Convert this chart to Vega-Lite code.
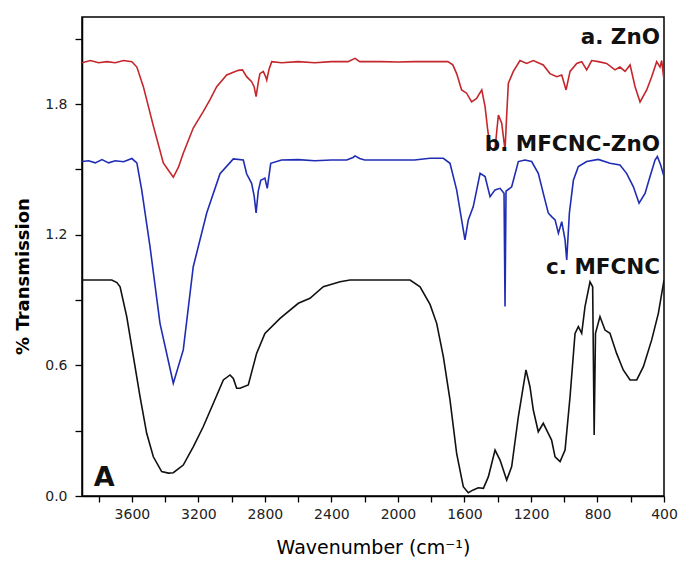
{
  "$schema": "https://vega.github.io/schema/vega-lite/v6.json",
  "width": 582,
  "height": 479,
  "autosize": {"type": "none"},
  "padding": {"left": 82, "top": 17, "right": 15, "bottom": 76},
  "background": "white",
  "config": {
    "view": {"stroke": "black", "strokeWidth": 1.5},
    "font": "DejaVu Sans",
    "axis": {"grid": false, "domainColor": "black", "tickColor": "black", "labelColor": "#222222", "titleColor": "black", "labelFont": "DejaVu Sans", "titleFont": "DejaVu Sans", "labelFontSize": 14, "titleFontSize": 18, "tickSize": 6, "domainWidth": 1.5, "tickWidth": 1.3}
  },
  "datasets": {
    "spectra": [
      {"s":"a","x":3900,"y":1.99},{"s":"a","x":3850,"y":2.0},{"s":"a","x":3800,"y":1.99},{"s":"a","x":3750,"y":1.995},{"s":"a","x":3700,"y":1.99},{"s":"a","x":3650,"y":2.0},{"s":"a","x":3600,"y":1.995},{"s":"a","x":3570,"y":1.97},{"s":"a","x":3531,"y":1.88},{"s":"a","x":3471,"y":1.70},{"s":"a","x":3411,"y":1.53},{"s":"a","x":3351,"y":1.464},{"s":"a","x":3320,"y":1.51},{"s":"a","x":3291,"y":1.574},{"s":"a","x":3231,"y":1.69},{"s":"a","x":3171,"y":1.765},{"s":"a","x":3130,"y":1.82},{"s":"a","x":3090,"y":1.88},{"s":"a","x":3030,"y":1.934},{"s":"a","x":2960,"y":1.955},{"s":"a","x":2935,"y":1.957},{"s":"a","x":2910,"y":1.926},{"s":"a","x":2880,"y":1.903},{"s":"a","x":2865,"y":1.88},{"s":"a","x":2853,"y":1.834},{"s":"a","x":2840,"y":1.90},{"s":"a","x":2830,"y":1.94},{"s":"a","x":2810,"y":1.95},{"s":"a","x":2795,"y":1.925},{"s":"a","x":2789,"y":1.91},{"s":"a","x":2775,"y":1.96},{"s":"a","x":2759,"y":1.995},{"s":"a","x":2700,"y":1.99},{"s":"a","x":2600,"y":1.995},{"s":"a","x":2500,"y":1.99},{"s":"a","x":2400,"y":1.995},{"s":"a","x":2300,"y":1.995},{"s":"a","x":2258,"y":2.01},{"s":"a","x":2230,"y":1.995},{"s":"a","x":2100,"y":1.995},{"s":"a","x":2000,"y":1.993},{"s":"a","x":1900,"y":1.995},{"s":"a","x":1800,"y":1.995},{"s":"a","x":1700,"y":1.995},{"s":"a","x":1670,"y":1.98},{"s":"a","x":1647,"y":1.94},{"s":"a","x":1617,"y":1.865},{"s":"a","x":1587,"y":1.85},{"s":"a","x":1557,"y":1.81},{"s":"a","x":1527,"y":1.826},{"s":"a","x":1496,"y":1.865},{"s":"a","x":1476,"y":1.788},{"s":"a","x":1460,"y":1.68},{"s":"a","x":1446,"y":1.605},{"s":"a","x":1430,"y":1.59},{"s":"a","x":1416,"y":1.597},{"s":"a","x":1396,"y":1.75},{"s":"a","x":1376,"y":1.712},{"s":"a","x":1356,"y":1.59},{"s":"a","x":1346,"y":1.75},{"s":"a","x":1336,"y":1.896},{"s":"a","x":1306,"y":1.95},{"s":"a","x":1266,"y":2.0},{"s":"a","x":1226,"y":1.987},{"s":"a","x":1186,"y":2.0},{"s":"a","x":1126,"y":1.98},{"s":"a","x":1086,"y":1.94},{"s":"a","x":1045,"y":1.926},{"s":"a","x":1015,"y":1.934},{"s":"a","x":989,"y":1.865},{"s":"a","x":965,"y":1.95},{"s":"a","x":925,"y":1.987},{"s":"a","x":895,"y":1.995},{"s":"a","x":865,"y":1.957},{"s":"a","x":835,"y":2.0},{"s":"a","x":795,"y":1.995},{"s":"a","x":745,"y":1.987},{"s":"a","x":695,"y":1.957},{"s":"a","x":665,"y":1.97},{"s":"a","x":634,"y":1.95},{"s":"a","x":604,"y":1.98},{"s":"a","x":574,"y":1.88},{"s":"a","x":544,"y":1.81},{"s":"a","x":504,"y":1.865},{"s":"a","x":474,"y":1.926},{"s":"a","x":444,"y":1.995},{"s":"a","x":424,"y":1.97},{"s":"a","x":414,"y":2.0},{"s":"a","x":400,"y":1.91},
      {"s":"b","x":3900,"y":1.536},{"s":"b","x":3860,"y":1.54},{"s":"b","x":3820,"y":1.53},{"s":"b","x":3780,"y":1.545},{"s":"b","x":3740,"y":1.53},{"s":"b","x":3700,"y":1.54},{"s":"b","x":3650,"y":1.535},{"s":"b","x":3600,"y":1.55},{"s":"b","x":3570,"y":1.53},{"s":"b","x":3541,"y":1.406},{"s":"b","x":3491,"y":1.145},{"s":"b","x":3431,"y":0.793},{"s":"b","x":3351,"y":0.518},{"s":"b","x":3291,"y":0.671},{"s":"b","x":3231,"y":1.053},{"s":"b","x":3150,"y":1.30},{"s":"b","x":3070,"y":1.48},{"s":"b","x":2990,"y":1.548},{"s":"b","x":2930,"y":1.543},{"s":"b","x":2910,"y":1.48},{"s":"b","x":2880,"y":1.436},{"s":"b","x":2865,"y":1.38},{"s":"b","x":2853,"y":1.30},{"s":"b","x":2840,"y":1.40},{"s":"b","x":2825,"y":1.45},{"s":"b","x":2800,"y":1.46},{"s":"b","x":2786,"y":1.413},{"s":"b","x":2765,"y":1.528},{"s":"b","x":2700,"y":1.543},{"s":"b","x":2600,"y":1.545},{"s":"b","x":2500,"y":1.54},{"s":"b","x":2400,"y":1.543},{"s":"b","x":2308,"y":1.543},{"s":"b","x":2270,"y":1.555},{"s":"b","x":2258,"y":1.562},{"s":"b","x":2230,"y":1.55},{"s":"b","x":2200,"y":1.543},{"s":"b","x":2000,"y":1.543},{"s":"b","x":1900,"y":1.543},{"s":"b","x":1807,"y":1.551},{"s":"b","x":1727,"y":1.551},{"s":"b","x":1687,"y":1.528},{"s":"b","x":1647,"y":1.406},{"s":"b","x":1617,"y":1.268},{"s":"b","x":1597,"y":1.176},{"s":"b","x":1577,"y":1.268},{"s":"b","x":1547,"y":1.329},{"s":"b","x":1506,"y":1.482},{"s":"b","x":1476,"y":1.467},{"s":"b","x":1446,"y":1.375},{"s":"b","x":1416,"y":1.406},{"s":"b","x":1386,"y":1.413},{"s":"b","x":1362,"y":1.39},{"s":"b","x":1356,"y":0.87},{"s":"b","x":1350,"y":1.40},{"s":"b","x":1316,"y":1.42},{"s":"b","x":1276,"y":1.536},{"s":"b","x":1236,"y":1.543},{"s":"b","x":1196,"y":1.536},{"s":"b","x":1156,"y":1.482},{"s":"b","x":1116,"y":1.36},{"s":"b","x":1096,"y":1.30},{"s":"b","x":1076,"y":1.283},{"s":"b","x":1055,"y":1.268},{"s":"b","x":1035,"y":1.207},{"s":"b","x":1015,"y":1.26},{"s":"b","x":995,"y":1.176},{"s":"b","x":985,"y":1.084},{"s":"b","x":969,"y":1.30},{"s":"b","x":945,"y":1.45},{"s":"b","x":915,"y":1.513},{"s":"b","x":865,"y":1.536},{"s":"b","x":795,"y":1.546},{"s":"b","x":725,"y":1.528},{"s":"b","x":665,"y":1.52},{"s":"b","x":625,"y":1.482},{"s":"b","x":584,"y":1.42},{"s":"b","x":550,"y":1.345},{"s":"b","x":514,"y":1.39},{"s":"b","x":484,"y":1.467},{"s":"b","x":454,"y":1.543},{"s":"b","x":440,"y":1.559},{"s":"b","x":420,"y":1.52},{"s":"b","x":400,"y":1.467},
      {"s":"c","x":3900,"y":0.992},{"s":"c","x":3800,"y":0.992},{"s":"c","x":3721,"y":0.992},{"s":"c","x":3690,"y":0.98},{"s":"c","x":3671,"y":0.961},{"s":"c","x":3631,"y":0.824},{"s":"c","x":3591,"y":0.64},{"s":"c","x":3551,"y":0.456},{"s":"c","x":3511,"y":0.288},{"s":"c","x":3471,"y":0.18},{"s":"c","x":3421,"y":0.112},{"s":"c","x":3380,"y":0.105},{"s":"c","x":3351,"y":0.107},{"s":"c","x":3291,"y":0.142},{"s":"c","x":3231,"y":0.226},{"s":"c","x":3171,"y":0.318},{"s":"c","x":3110,"y":0.426},{"s":"c","x":3050,"y":0.533},{"s":"c","x":3010,"y":0.556},{"s":"c","x":2990,"y":0.54},{"s":"c","x":2970,"y":0.495},{"s":"c","x":2950,"y":0.495},{"s":"c","x":2900,"y":0.51},{"s":"c","x":2850,"y":0.655},{"s":"c","x":2800,"y":0.747},{"s":"c","x":2709,"y":0.816},{"s":"c","x":2599,"y":0.885},{"s":"c","x":2529,"y":0.908},{"s":"c","x":2449,"y":0.961},{"s":"c","x":2348,"y":0.984},{"s":"c","x":2288,"y":0.992},{"s":"c","x":2100,"y":0.992},{"s":"c","x":1927,"y":0.992},{"s":"c","x":1867,"y":0.961},{"s":"c","x":1807,"y":0.88},{"s":"c","x":1767,"y":0.793},{"s":"c","x":1727,"y":0.64},{"s":"c","x":1687,"y":0.441},{"s":"c","x":1647,"y":0.196},{"s":"c","x":1607,"y":0.043},{"s":"c","x":1577,"y":0.015},{"s":"c","x":1547,"y":0.028},{"s":"c","x":1517,"y":0.038},{"s":"c","x":1486,"y":0.035},{"s":"c","x":1456,"y":0.089},{"s":"c","x":1416,"y":0.211},{"s":"c","x":1386,"y":0.165},{"s":"c","x":1346,"y":0.073},{"s":"c","x":1316,"y":0.135},{"s":"c","x":1276,"y":0.364},{"s":"c","x":1230,"y":0.579},{"s":"c","x":1206,"y":0.502},{"s":"c","x":1186,"y":0.395},{"s":"c","x":1156,"y":0.295},{"s":"c","x":1126,"y":0.334},{"s":"c","x":1096,"y":0.288},{"s":"c","x":1076,"y":0.257},{"s":"c","x":1055,"y":0.18},{"s":"c","x":1025,"y":0.158},{"s":"c","x":995,"y":0.211},{"s":"c","x":965,"y":0.456},{"s":"c","x":935,"y":0.747},{"s":"c","x":915,"y":0.778},{"s":"c","x":895,"y":0.747},{"s":"c","x":875,"y":0.87},{"s":"c","x":845,"y":0.984},{"s":"c","x":829,"y":0.961},{"s":"c","x":820,"y":0.28},{"s":"c","x":812,"y":0.747},{"s":"c","x":785,"y":0.824},{"s":"c","x":755,"y":0.762},{"s":"c","x":725,"y":0.747},{"s":"c","x":685,"y":0.655},{"s":"c","x":645,"y":0.579},{"s":"c","x":604,"y":0.533},{"s":"c","x":564,"y":0.533},{"s":"c","x":524,"y":0.594},{"s":"c","x":474,"y":0.717},{"s":"c","x":434,"y":0.839},{"s":"c","x":400,"y":0.992}
    ],
    "labels": [
      {"t":"a. ZnO","x":424,"y":2.104},
      {"t":"b. MFCNC-ZnO","x":424,"y":1.612},
      {"t":"c. MFCNC","x":424,"y":1.047}
    ],
    "panel": [
      {"t":"A","x":3830,"y":0.083}
    ]
  },
  "encoding": {
    "x": {"field": "x", "type": "quantitative", "scale": {"domain": [3900, 400], "nice": false},
      "axis": {"values": [3800,3600,3400,3200,3000,2800,2600,2400,2200,2000,1800,1600,1400,1200,1000,800,600,400], "format": "d",
        "labelOpacity": {"condition": {"test": "datum.value % 400 === 0", "value": 1}, "value": 0},
        "labelPadding": 5, "labelFlush": false, "labelOverlap": false,
        "title": "Wavenumber (cm⁻¹)", "titlePadding": 17, "titleFontWeight": "normal", "titleFontSize": 19}},
    "y": {"field": "y", "type": "quantitative", "scale": {"domain": [0, 2.2], "nice": false, "zero": false},
      "axis": {"values": [0,0.3,0.6,0.9,1.2,1.5,1.8,2.1], "format": ".1f",
        "labelOpacity": {"condition": {"test": "abs(datum.value / 0.6 - round(datum.value / 0.6)) < 0.01", "value": 1}, "value": 0},
        "tickSize": 7, "labelPadding": 8, "labelFlush": false, "labelOverlap": false,
        "title": "% Transmission", "titlePadding": 12, "titleFontWeight": "bold", "titleFontSize": 18, "titleY": 259}}
  },
  "layer": [
    {
      "data": {"name": "spectra"},
      "mark": {"type": "line", "strokeWidth": 1.6, "clip": true},
      "encoding": {
        "color": {"field": "s", "type": "nominal", "scale": {"domain": ["a","b","c"], "range": ["#c4262b","#1f2db4","#111111"]}, "legend": null},
        "detail": {"field": "s"}
      }
    },
    {
      "data": {"name": "labels"},
      "mark": {"type": "text", "align": "right", "baseline": "middle", "fontSize": 21.5, "fontWeight": "bold", "color": "#111111", "font": "DejaVu Sans"},
      "encoding": {
        "text": {"field": "t"}
      }
    },
    {
      "data": {"name": "panel"},
      "mark": {"type": "text", "align": "left", "baseline": "middle", "fontSize": 27, "fontWeight": "bold", "color": "#111111", "font": "DejaVu Sans"},
      "encoding": {
        "text": {"field": "t"}
      }
    }
  ]
}
